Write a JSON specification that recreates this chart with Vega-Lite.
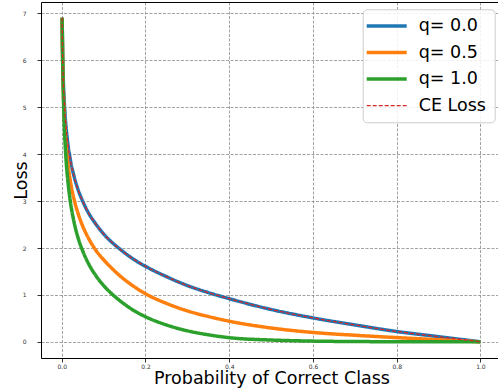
{
  "$schema": "https://vega.github.io/schema/vega-lite/v6.json",
  "width": 457,
  "height": 356,
  "autosize": {"type": "none"},
  "padding": {"left": 41, "top": 2, "right": 0, "bottom": 31},
  "background": "white",
  "config": {
    "view": {"stroke": null},
    "font": "DejaVu Sans",
    "axis": {
      "labelFont": "DejaVu Sans",
      "labelFontSize": 6,
      "labelColor": "#333333",
      "tickSize": 4,
      "tickColor": "black",
      "tickWidth": 0.8,
      "domainColor": "black",
      "domainWidth": 1,
      "gridColor": "#8c8c8c",
      "gridDash": [3, 1.5],
      "gridWidth": 0.8,
      "titleFont": "DejaVu Sans",
      "titleFontSize": 17.5,
      "titleFontWeight": "normal",
      "titleColor": "black"
    },
    "axisX": {"labelPadding": 1},
    "axisY": {"labelPadding": 11}
  },
  "data": {
    "values": [
      {"p": 0.001, "series": "q= 0.0", "loss": 6.91},
      {"p": 0.002, "series": "q= 0.0", "loss": 6.21},
      {"p": 0.004, "series": "q= 0.0", "loss": 5.52},
      {"p": 0.006, "series": "q= 0.0", "loss": 5.12},
      {"p": 0.008, "series": "q= 0.0", "loss": 4.83},
      {"p": 0.01, "series": "q= 0.0", "loss": 4.61},
      {"p": 0.015, "series": "q= 0.0", "loss": 4.2},
      {"p": 0.02, "series": "q= 0.0", "loss": 3.91},
      {"p": 0.03, "series": "q= 0.0", "loss": 3.51},
      {"p": 0.04, "series": "q= 0.0", "loss": 3.22},
      {"p": 0.05, "series": "q= 0.0", "loss": 3.0},
      {"p": 0.065, "series": "q= 0.0", "loss": 2.73},
      {"p": 0.08, "series": "q= 0.0", "loss": 2.53},
      {"p": 0.1, "series": "q= 0.0", "loss": 2.3},
      {"p": 0.12, "series": "q= 0.0", "loss": 2.12},
      {"p": 0.14, "series": "q= 0.0", "loss": 1.97},
      {"p": 0.17, "series": "q= 0.0", "loss": 1.77},
      {"p": 0.2, "series": "q= 0.0", "loss": 1.61},
      {"p": 0.25, "series": "q= 0.0", "loss": 1.39},
      {"p": 0.3, "series": "q= 0.0", "loss": 1.2},
      {"p": 0.35, "series": "q= 0.0", "loss": 1.05},
      {"p": 0.4, "series": "q= 0.0", "loss": 0.92},
      {"p": 0.5, "series": "q= 0.0", "loss": 0.69},
      {"p": 0.6, "series": "q= 0.0", "loss": 0.51},
      {"p": 0.7, "series": "q= 0.0", "loss": 0.36},
      {"p": 0.8, "series": "q= 0.0", "loss": 0.22},
      {"p": 0.9, "series": "q= 0.0", "loss": 0.11},
      {"p": 1.0, "series": "q= 0.0", "loss": 0.0},

      {"p": 0.001, "series": "q= 0.5", "loss": 6.91},
      {"p": 0.002, "series": "q= 0.5", "loss": 6.1},
      {"p": 0.004, "series": "q= 0.5", "loss": 5.3},
      {"p": 0.006, "series": "q= 0.5", "loss": 4.83},
      {"p": 0.008, "series": "q= 0.5", "loss": 4.5},
      {"p": 0.01, "series": "q= 0.5", "loss": 4.24},
      {"p": 0.015, "series": "q= 0.5", "loss": 3.78},
      {"p": 0.02, "series": "q= 0.5", "loss": 3.46},
      {"p": 0.03, "series": "q= 0.5", "loss": 3.02},
      {"p": 0.04, "series": "q= 0.5", "loss": 2.71},
      {"p": 0.05, "series": "q= 0.5", "loss": 2.47},
      {"p": 0.065, "series": "q= 0.5", "loss": 2.19},
      {"p": 0.08, "series": "q= 0.5", "loss": 1.97},
      {"p": 0.1, "series": "q= 0.5", "loss": 1.75},
      {"p": 0.12, "series": "q= 0.5", "loss": 1.565},
      {"p": 0.14, "series": "q= 0.5", "loss": 1.4},
      {"p": 0.17, "series": "q= 0.5", "loss": 1.195},
      {"p": 0.2, "series": "q= 0.5", "loss": 1.025},
      {"p": 0.25, "series": "q= 0.5", "loss": 0.82},
      {"p": 0.3, "series": "q= 0.5", "loss": 0.66},
      {"p": 0.35, "series": "q= 0.5", "loss": 0.54},
      {"p": 0.4, "series": "q= 0.5", "loss": 0.44},
      {"p": 0.5, "series": "q= 0.5", "loss": 0.295},
      {"p": 0.6, "series": "q= 0.5", "loss": 0.2},
      {"p": 0.7, "series": "q= 0.5", "loss": 0.14},
      {"p": 0.8, "series": "q= 0.5", "loss": 0.09},
      {"p": 0.9, "series": "q= 0.5", "loss": 0.045},
      {"p": 1.0, "series": "q= 0.5", "loss": 0.0},

      {"p": 0.001, "series": "q= 1.0", "loss": 6.91},
      {"p": 0.002, "series": "q= 1.0", "loss": 6.2},
      {"p": 0.004, "series": "q= 1.0", "loss": 5.23},
      {"p": 0.006, "series": "q= 1.0", "loss": 4.64},
      {"p": 0.008, "series": "q= 1.0", "loss": 4.24},
      {"p": 0.01, "series": "q= 1.0", "loss": 3.93},
      {"p": 0.015, "series": "q= 1.0", "loss": 3.4},
      {"p": 0.02, "series": "q= 1.0", "loss": 3.03},
      {"p": 0.03, "series": "q= 1.0", "loss": 2.53},
      {"p": 0.04, "series": "q= 1.0", "loss": 2.19},
      {"p": 0.05, "series": "q= 1.0", "loss": 1.94},
      {"p": 0.065, "series": "q= 1.0", "loss": 1.65},
      {"p": 0.08, "series": "q= 1.0", "loss": 1.43},
      {"p": 0.1, "series": "q= 1.0", "loss": 1.2},
      {"p": 0.12, "series": "q= 1.0", "loss": 1.02},
      {"p": 0.14, "series": "q= 1.0", "loss": 0.87},
      {"p": 0.17, "series": "q= 1.0", "loss": 0.68},
      {"p": 0.2, "series": "q= 1.0", "loss": 0.535},
      {"p": 0.25, "series": "q= 1.0", "loss": 0.36},
      {"p": 0.3, "series": "q= 1.0", "loss": 0.235},
      {"p": 0.35, "series": "q= 1.0", "loss": 0.15},
      {"p": 0.4, "series": "q= 1.0", "loss": 0.088},
      {"p": 0.5, "series": "q= 1.0", "loss": 0.038},
      {"p": 0.6, "series": "q= 1.0", "loss": 0.015},
      {"p": 0.7, "series": "q= 1.0", "loss": 0.006},
      {"p": 0.8, "series": "q= 1.0", "loss": 0.002},
      {"p": 0.9, "series": "q= 1.0", "loss": 0.0005},
      {"p": 1.0, "series": "q= 1.0", "loss": 0.0},

      {"p": 0.001, "series": "CE Loss", "loss": 6.91},
      {"p": 0.002, "series": "CE Loss", "loss": 6.21},
      {"p": 0.004, "series": "CE Loss", "loss": 5.52},
      {"p": 0.006, "series": "CE Loss", "loss": 5.12},
      {"p": 0.008, "series": "CE Loss", "loss": 4.83},
      {"p": 0.01, "series": "CE Loss", "loss": 4.61},
      {"p": 0.015, "series": "CE Loss", "loss": 4.2},
      {"p": 0.02, "series": "CE Loss", "loss": 3.91},
      {"p": 0.03, "series": "CE Loss", "loss": 3.51},
      {"p": 0.04, "series": "CE Loss", "loss": 3.22},
      {"p": 0.05, "series": "CE Loss", "loss": 3.0},
      {"p": 0.065, "series": "CE Loss", "loss": 2.73},
      {"p": 0.08, "series": "CE Loss", "loss": 2.53},
      {"p": 0.1, "series": "CE Loss", "loss": 2.3},
      {"p": 0.12, "series": "CE Loss", "loss": 2.12},
      {"p": 0.14, "series": "CE Loss", "loss": 1.97},
      {"p": 0.17, "series": "CE Loss", "loss": 1.77},
      {"p": 0.2, "series": "CE Loss", "loss": 1.61},
      {"p": 0.25, "series": "CE Loss", "loss": 1.39},
      {"p": 0.3, "series": "CE Loss", "loss": 1.2},
      {"p": 0.35, "series": "CE Loss", "loss": 1.05},
      {"p": 0.4, "series": "CE Loss", "loss": 0.92},
      {"p": 0.5, "series": "CE Loss", "loss": 0.69},
      {"p": 0.6, "series": "CE Loss", "loss": 0.51},
      {"p": 0.7, "series": "CE Loss", "loss": 0.36},
      {"p": 0.8, "series": "CE Loss", "loss": 0.22},
      {"p": 0.9, "series": "CE Loss", "loss": 0.11},
      {"p": 1.0, "series": "CE Loss", "loss": 0.0}
    ]
  },
  "resolve": {"axis": {"x": "independent"}},
  "layer": [
    {
      "mark": {"type": "line", "interpolate": "monotone", "strokeCap": "butt", "clip": true},
      "encoding": {
        "x": {
          "field": "p",
          "type": "quantitative",
          "scale": {"domain": [-0.0495, 1.042], "nice": false, "zero": false},
          "axis": {
            "values": [0, 0.2, 0.4, 0.6, 0.8, 1.0],
            "format": ".1f",
            "labelPadding": 1,
            "title": "Probability of Correct Class",
            "titleX": 230.5,
            "titleAlign": "center",
            "titleBaseline": "alphabetic",
            "titleY": 25.5
          }
        },
        "y": {
          "field": "loss",
          "type": "quantitative",
          "scale": {"domain": [-0.345, 7.245], "nice": false, "zero": false},
          "axis": {
            "values": [0, 1, 2, 3, 4, 5, 6, 7],
            "format": "d",
            "labelPadding": 11,
            "title": "Loss",
            "titleAngle": -90,
            "titleX": -14.5,
            "titleY": 178,
            "titleAlign": "center",
            "titleBaseline": "alphabetic"
          }
        },
        "color": {
          "field": "series",
          "type": "nominal",
          "sort": null,
          "scale": {
            "domain": ["q= 0.0", "q= 0.5", "q= 1.0", "CE Loss"],
            "range": ["#1f77b4", "#ff7f0e", "#2ca02c", "#d62728"]
          },
          "legend": {
            "title": null,
            "orient": "none",
            "legendX": 321.7,
            "legendY": 7.3,
            "padding": 8,
            "strokeColor": "#cccccc",
            "fillColor": "#ffffff",
            "cornerRadius": 4,
            "symbolType": "stroke",
            "symbolSize": 1600,
            "symbolStrokeWidth": 3.5,
            "labelFont": "DejaVu Sans",
            "labelFontSize": 17.5,
            "labelColor": "black",
            "labelOffset": 12,
            "rowPadding": 7.5,
            "encode": {
              "legend": {
                "update": {
                  "stroke": {"value": "#cccccc"},
                  "strokeWidth": {"value": 1},
                  "fill": {"value": "#ffffff"},
                  "fillOpacity": {"value": 0.85},
                  "cornerRadius": {"value": 4}
                }
              },
              "symbols": {
                "update": {
                  "x": {"value": 16},
                  "strokeDash": {"signal": "datum.value === 'CE Loss' ? [4, 2] : [1, 0]"},
                  "strokeWidth": {"signal": "datum.value === 'CE Loss' ? 1.3 : 3.5"}
                }
              },
              "labels": {
                "update": {
                  "x": {"value": 48}
                }
              }
            }
          }
        },
        "strokeDash": {
          "condition": {"test": "datum.series === 'CE Loss'", "value": [4, 2]},
          "value": [1, 0]
        },
        "strokeWidth": {
          "condition": {"test": "datum.series === 'CE Loss'", "value": 1.3},
          "value": 3.5
        }
      }
    },
    {
      "mark": {"type": "line", "opacity": 0},
      "encoding": {
        "x": {
          "field": "p",
          "type": "quantitative",
          "axis": {"orient": "top", "labels": false, "ticks": false, "grid": false, "title": null, "domain": true}
        },
        "y": {"field": "loss", "type": "quantitative"},
        "detail": {"field": "series"}
      }
    }
  ]
}
